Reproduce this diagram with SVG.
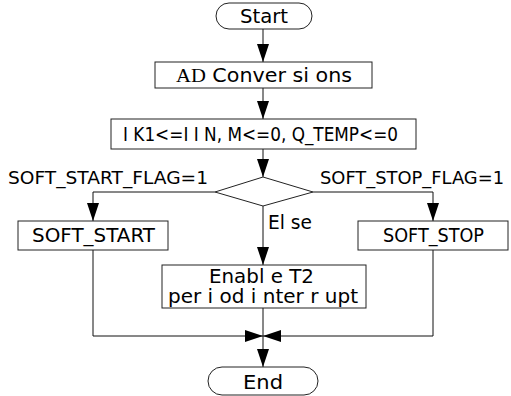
<svg xmlns="http://www.w3.org/2000/svg" width="511" height="396" viewBox="0 0 511 396">
<style>
.box{fill:#fff;stroke:#222;stroke-width:1}
.ln{fill:none;stroke:#111;stroke-width:1}
.t{font-family:"DejaVu Sans","Liberation Sans",sans-serif;font-size:19px;fill:#000}
.f{font-size:18px}
</style>
<defs>
<marker id="ah" markerWidth="18" markerHeight="12" refX="18" refY="6" viewBox="0 0 18 12" orient="auto" markerUnits="userSpaceOnUse">
<path d="M0,0 L18,6 L0,12 Z" fill="#000"/>
</marker>
</defs>
<rect width="511" height="396" fill="#fff"/>
<g id="connectors">
<line class="ln" x1="263" y1="29" x2="263" y2="62" marker-end="url(#ah)"/>
<line class="ln" x1="263" y1="88" x2="263" y2="119" marker-end="url(#ah)"/>
<line class="ln" x1="263" y1="149" x2="263" y2="177" marker-end="url(#ah)"/>
<polyline class="ln" points="215,192 93,192 93,221" marker-end="url(#ah)"/>
<polyline class="ln" points="313,192 433,192 433,221" marker-end="url(#ah)"/>
<line class="ln" x1="263" y1="206" x2="263" y2="265" marker-end="url(#ah)"/>
<polyline class="ln" points="93,250 93,336 263,336" marker-end="url(#ah)"/>
<polyline class="ln" points="433,250 433,336 263,336" marker-end="url(#ah)"/>
<line class="ln" x1="263" y1="308" x2="263" y2="367" marker-end="url(#ah)"/>
<text class="t f" x="8" y="184" textLength="200" lengthAdjust="spacingAndGlyphs">SOFT_START_FLAG=1</text>
<text class="t f" x="320" y="184" textLength="184" lengthAdjust="spacingAndGlyphs">SOFT_STOP_FLAG=1</text>
<text class="t" x="268" y="229" textLength="44" lengthAdjust="spacingAndGlyphs">El se</text>
</g>
<g id="start">
<rect class="box" x="216" y="3" width="96" height="26" rx="13"/>
<text class="t" x="240" y="23" textLength="48" lengthAdjust="spacingAndGlyphs">Start</text>
</g>
<g id="ad">
<rect class="box" x="155" y="62" width="217" height="26"/>
<text class="t" x="176" y="82" textLength="176" lengthAdjust="spacingAndGlyphs"><tspan font-family="Liberation Serif,serif">AD</tspan> Conver si ons</text>
</g>
<g id="init">
<rect class="box" x="111" y="119" width="305" height="30"/>
<text class="t" x="123" y="141" textLength="275" lengthAdjust="spacingAndGlyphs">I K1&lt;=I I N, M&lt;=0, Q_TEMP&lt;=0</text>
</g>
<g id="decision">
<polygon class="box" points="263,177 313,192 263,206 215,192"/>
</g>
<g id="softstart">
<rect class="box" x="18" y="221" width="150" height="29"/>
<text class="t" x="32" y="242" textLength="123" lengthAdjust="spacingAndGlyphs">SOFT_START</text>
</g>
<g id="softstop">
<rect class="box" x="358" y="221" width="150" height="29"/>
<text class="t" x="383" y="242" textLength="101" lengthAdjust="spacingAndGlyphs">SOFT_STOP</text>
</g>
<g id="enable">
<rect class="box" x="162" y="265" width="204" height="43"/>
<text class="t" x="209" y="283" textLength="105" lengthAdjust="spacingAndGlyphs">Enabl e T2</text>
<text class="t" x="168" y="303" textLength="190" lengthAdjust="spacingAndGlyphs">per i od i nter r upt</text>
</g>
<g id="end">
<rect class="box" x="208" y="367" width="110" height="28" rx="14"/>
<text class="t" x="243" y="389" textLength="40" lengthAdjust="spacingAndGlyphs">End</text>
</g>
</svg>
